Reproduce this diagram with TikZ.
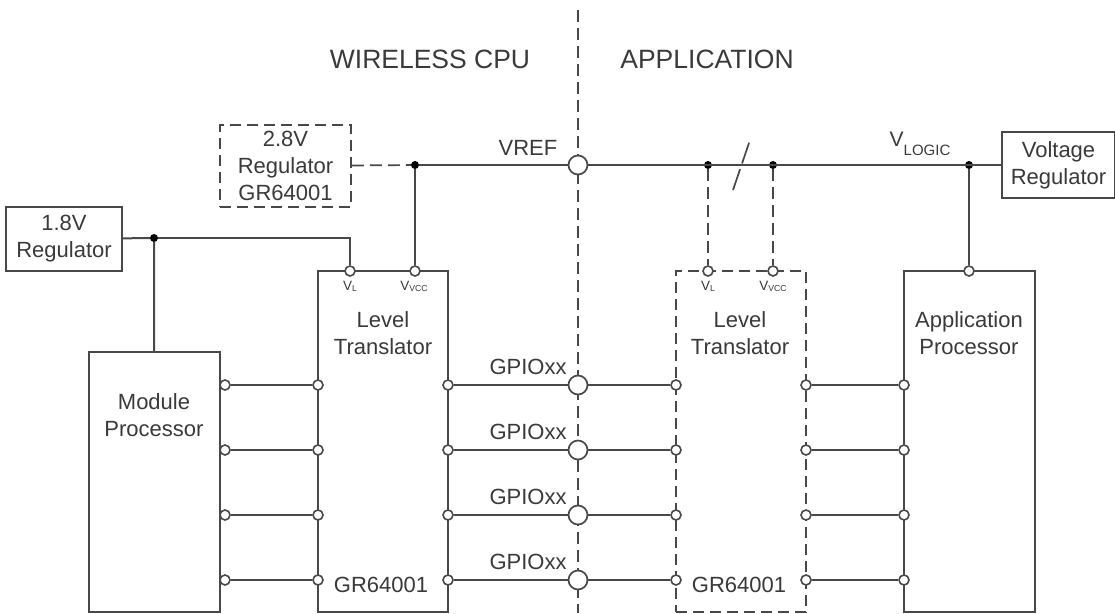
\documentclass[tikz,border=0pt]{standalone}
\usepackage{fontspec}
\setmainfont{Liberation Sans}
\definecolor{ln}{HTML}{484848}
\definecolor{tx}{HTML}{3A3A3A}
\tikzset{
  x=1pt,y=-1pt,
  every node/.style={text=tx},
  lab/.style={font=\fontsize{22}{27}\selectfont,inner sep=0pt,align=center},
  head/.style={font=\fontsize{26.5}{30}\selectfont,inner sep=0pt,anchor=base},
  tiny/.style={inner sep=0pt,anchor=base},
  wire/.style={draw=ln,line width=2pt},
  dwire/.style={draw=ln,line width=1.7pt,dash pattern=on 12pt off 6pt},
  blk/.style={draw=ln,line width=1.7pt,fill=white,rectangle,inner sep=0pt,lab},
  dblk/.style={blk,dash pattern=on 11pt off 6pt},
  pin/.style={circle,draw=ln,line width=1.6pt,fill=white,minimum size=10pt,inner sep=0pt},
  bigpin/.style={circle,draw=ln,line width=1.7pt,fill=white,minimum size=19pt,inner sep=0pt},
  dot/.style={circle,fill=black,minimum size=8pt,inner sep=0pt},
}
\begin{document}
\begin{tikzpicture}
\useasboundingbox (0,0) rectangle (1115,613);
% divider
\coordinate (divT) at (578,10);
\coordinate (divB) at (578,613);
\draw[dwire] (divT) -- (divB);
% boxes
\node[blk,minimum width=131pt,minimum height=260pt] (mp) at (154.5,482) {};
\node[blk,minimum width=130pt,minimum height=341pt] (lt1) at (383,441.5) {};
\node[dblk,minimum width=130pt,minimum height=341pt] (lt2) at (741,441.5) {};
\node[blk,minimum width=131pt,minimum height=341pt] (ap) at (969.5,441.5) {};
\node[blk,minimum width=116pt,minimum height=64pt] (r18) at (64,239) {1.8V\\Regulator};
\node[dblk,minimum width=131pt,minimum height=82pt] (r28) at (285.5,166) {2.8V\\Regulator\\GR64001};
\node[blk,minimum width=113pt,minimum height=66pt] (vr) at (1058.5,165) {Voltage\\Regulator};
% box labels
\node[lab] (t1) at (154,415) {Module\\Processor};
\node[lab] (t2) at (383,333) {Level\\Translator};
\node[lab] (t3) at (740,333) {Level\\Translator};
\node[lab] (t4) at (969,333) {Application\\Processor};
\node[lab,anchor=base] (g1) at (381,592) {GR64001};
\node[lab,anchor=base] (g2) at (739,592) {GR64001};
\node[head] (h1) at (430,68) {WIRELESS CPU};
\node[head] (h2) at (707,68) {APPLICATION};
\node[lab,anchor=base] (vref) at (528,155) {VREF};
% junctions
\node[bigpin] (cv) at (578,165) {};
\node[dot] (d18) at (154,238) {};
\node[dot] (d28) at (415,165) {};
\node[dot] (dl) at (708,165) {};
\node[dot] (dc) at (773,165) {};
\node[dot] (dv) at (969,165) {};
% supply pins
\node[pin] (vl1) at (350,271) {};
\node[pin] (vc1) at (415,271) {};
\node[pin] (vl2) at (708,271) {};
\node[pin] (vc2) at (773,271) {};
\node[pin] (vap) at (969,271) {};
% pin labels
\node[tiny] (tvl1) at (350,290) {\fontsize{13.5}{14}\selectfont V\fontsize{8.7}{9}\selectfont\raisebox{-1.5pt}{L}};
\node[tiny] (tvc1) at (414,290) {\fontsize{13.5}{14}\selectfont V\fontsize{8.7}{9}\selectfont\raisebox{-1.5pt}{VCC}};
\node[tiny] (tvl2) at (708,290) {\fontsize{13.5}{14}\selectfont V\fontsize{8.7}{9}\selectfont\raisebox{-1.5pt}{L}};
\node[tiny] (tvc2) at (773,290) {\fontsize{13.5}{14}\selectfont V\fontsize{8.7}{9}\selectfont\raisebox{-1.5pt}{VCC}};
\node[tiny] (tlog) at (920,146) {\fontsize{21}{22}\selectfont V\fontsize{15}{16}\selectfont\raisebox{-9pt}{LOGIC}};
% supply wires
\draw[wire] (r18) -- (d18);
\draw[wire] (d18) -| (vl1);
\draw[wire] (d18) -- (mp);
\draw[dwire] (r28) -- (d28);
\draw[wire] (d28) -- (cv);
\draw[wire] (d28) -- (vc1);
\draw[wire] (cv) -- (vr);
\draw[dwire] (dl) -- (vl2);
\draw[dwire] (dc) -- (vc2);
\draw[wire] (dv) -- (vap);
\coordinate (slA) at (733,190);
\coordinate (slB) at (750,140);
\draw[dwire,dash pattern=on 22pt off 6pt] (slA) -- (slB);
% signal rows
\foreach \r/\y/\ty in {a/385/374,b/450/439,c/515/504,d/580/569}{
  \node[pin] (m\r) at (225,\y) {};
  \node[pin] (p\r) at (318,\y) {};
  \node[pin] (q\r) at (448,\y) {};
  \node[bigpin] (c\r) at (578,\y) {};
  \node[pin] (s\r) at (676,\y) {};
  \node[pin] (u\r) at (806,\y) {};
  \node[pin] (w\r) at (904,\y) {};
  \node[lab,anchor=base] (gp\r) at (528,\ty) {GPIOxx};
  \draw[wire] (m\r) -- (p\r);
  \draw[wire] (q\r) -- (c\r);
  \draw[wire] (c\r) -- (s\r);
  \draw[wire] (u\r) -- (w\r);
}
\end{tikzpicture}
\end{document}
